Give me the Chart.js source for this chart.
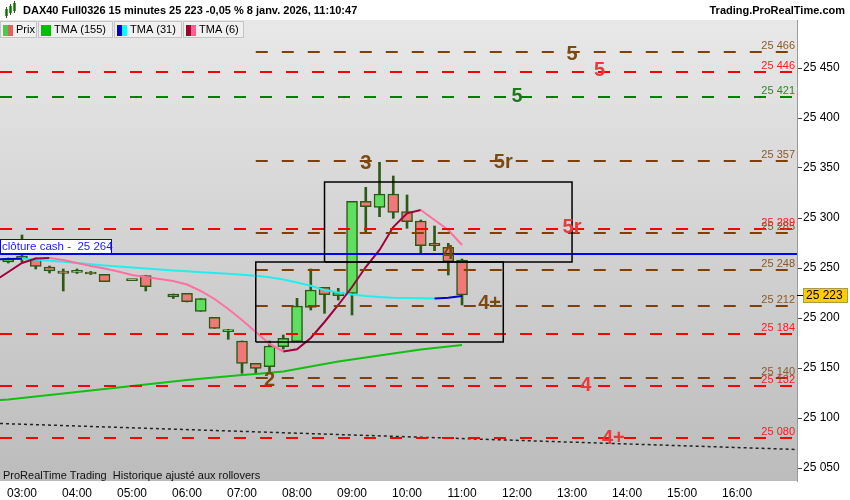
<!DOCTYPE html>
<html>
<head>
<meta charset="utf-8">
<script src="https://cdn.jsdelivr.net/npm/chart.js@4.4.1/dist/chart.umd.min.js"></script>
<style>
  html, body { margin: 0; padding: 0; background: #ffffff; }
  canvas { display: block; }
</style>
</head>
<body>
<canvas id="dax" width="850" height="500"></canvas>
<script>
'use strict';

/* ── data ─────────────────────────────────────────────── */
const candleTimes = [
  '02:45', '03:00', '03:15', '03:30', '03:45', '04:00', '04:15', '04:30', '04:45',
  '05:00', '05:15', '05:30', '05:45', '06:00', '06:15', '06:30', '06:45', '07:00',
  '07:15', '07:30', '07:45', '08:00', '08:15', '08:30', '08:45', '09:00', '09:15',
  '09:30', '09:45', '10:00', '10:15', '10:30', '10:45', '11:00',
];
const opens  = [25256, 25259, 25259, 25251, 25247, 25245.7, 25246, 25243.7, null,
                25237.3, 25242.3, null, 25224, 25224.7, 25206.7, 25200.7, 25186.3, 25177,
                25154.7, 25151.3, 25171.3, 25176.3, 25210.7, 25230.7, 25222.3, 25224.7, 25316.7,
                25310.7, 25324, 25306.3, 25297, 25274.7, 25270.7, 25258];
const highs  = [25260, 25283, 25260, 25252, 25249, 25249, 25246.5, 25243.7, null,
                25237.3, 25242.3, null, 25224, 25224.7, 25219.3, 25200.7, 25188.7, 25177,
                25154.7, 25177, 25183, 25219.7, 25249, 25230.7, 25229.7, 25316.7, 25330.7,
                25355.7, 25342, 25323, 25298, 25292, 25274.7, 25259];
const lows   = [25255, 25256, 25249, 25245, 25227, 25244.5, 25243.5, 25236.3, null,
                25237.3, 25227, null, 25219.5, 25216, 25206.7, 25189.7, 25178.7, 25144.7,
                25144, 25146, 25169, 25176.3, 25208, 25204.7, 25218, 25203, 25286.3,
                25301.3, 25299.7, 25289.7, 25264, 25267.3, 25243, 25213];
const closes = [25259.5, 25262, 25251.5, 25247, 25244.7, 25245.7, 25244, 25236.3, null,
                25237.3, 25231.3, null, 25221, 25216.3, 25219.3, 25189.7, 25186.3, 25154.7,
                25149.7, 25172, 25179.7, 25212, 25228, 25223.3, 25225.7, 25316.7, 25311.3,
                25324, 25305.7, 25296.3, 25272.3, 25272.3, 25256.3, 25223];

const maTimes = ['02:30'].concat(candleTimes);
const tma155 = [25117.5, 25118.5, 25120, 25121.5, 25123, 25124.5, 25126, 25127.5, 25129,
                25130.5, 25132, 25133.5, 25135, 25136.5, 25138, 25139.3, 25140.5, 25141.7,
                25142.9, 25144, 25145.2, 25146.5, 25149, 25151.5, 25154, 25156.5, 25158.5,
                25160.5, 25162.5, 25164.5, 25166.5, 25168.5, 25170, 25171.5, 25173];
const tma31  = [25258.5, 25259, 25259.3, 25258.3, 25257.3, 25256.2, 25255, 25253.8, 25252.6,
                25251.5, 25250.5, 25249.5, 25248.5, 25247.6, 25246.7, 25245.8, 25245, 25244.2,
                25243.3, 25242.2, 25240.8, 25238.5, 25235.5, 25232.3, 25228, 25225.5, 25223.5,
                25222, 25221, 25220.3, 25220, 25219.7, 25219.6, 25220.3, 25222];
const tma6   = [25237, 25246, 25255, 25259.5, 25260, 25258, 25255, 25252, 25249.5,
                25246.5, 25243, 25241, 25239, 25237, 25233.5, 25227, 25219, 25209,
                25198, 25186, 25174, 25166.5, 25168.7, 25180, 25196, 25213, 25231,
                25251, 25268, 25291, 25304.7, 25308, 25298, 25288, 25273];

// horizontal levels
const brownLevels = [25466, 25357, 25285, 25248, 25212, 25140];
const redLevels   = [25446, 25289, 25184, 25132, 25080];
const greenLevels = [25421];
const brownStart  = '07:15';
const clotureCash = 25264;

// rectangles: [from, to, low, high]
const boxes = [
  ['08:30', '13:00', 25256, 25336],
  ['07:15', '11:45', 25176, 25256],
];

// dotted trend line
const trendTimes  = ['02:36', '17:06'];
const trendValues = [25094.5, 25068.5];

// level tags on the chart: [text, time, value, colour key]
const tags = [
  ['5',  '13:00', 25464, 'brown'],
  ['5',  '13:30', 25448, 'red'],
  ['5',  '12:00', 25422, 'green'],
  ['3',  '09:15', 25355, 'brown'],
  ['5r', '11:45', 25356, 'brown'],
  ['5r', '13:00', 25291, 'red'],
  ['4',  '10:45', 25265, 'brown'],
  ['4+', '11:30', 25215, 'brown'],
  ['2',  '07:30', 25138, 'brown'],
  ['4',  '13:15', 25133, 'red'],
  ['4+', '13:45', 25080, 'red'],
];

const hourTicks  = [3, 4, 5, 6, 7, 8, 9, 10, 11, 12, 13, 14, 15, 16];
const priceTicks = [25050, 25100, 25150, 25200, 25250, 25300, 25350, 25400, 25450];
const X_MIN = 2.6, X_MAX = 17.09, Y_MIN = 25037, Y_MAX = 25498;

/* ── helpers ──────────────────────────────────────────── */
const FONT = '"Liberation Sans", Arial, sans-serif';
const toH = (s) => { const p = s.split(':'); return +p[0] + (+p[1]) / 60; };
const fmt = (v) => String(Math.round(v)).replace(/\B(?=(\d{3})+(?!\d))/g, ' ');
const pad2 = (n) => (n < 10 ? '0' : '') + n;

const COL = {
  brown: { line: '#7f4000', text: '#8a5a28', tag: '#7b4a12' },
  red:   { line: '#ff0000', text: '#ff1a1a', tag: '#e83a3a' },
  green: { line: '#008000', text: '#2a8a2a', tag: '#1a7a1a' },
};

/* ── datasets ─────────────────────────────────────────── */
const wickData = [], bodyData = [], bodyColors = [];
candleTimes.forEach((t, i) => {
  if (opens[i] === null) return;
  const x = toH(t);
  wickData.push({ x, y: [lows[i], highs[i]] });
  bodyData.push({ x, y: [opens[i], closes[i]] });
  bodyColors.push(closes[i] >= opens[i] ? '#5ee05e' : '#f07878');
});

const maLine = (values, extra) => Object.assign({
  type: 'line',
  data: maTimes.map((t, i) => ({ x: toH(t), y: values[i] })),
  borderWidth: 2,
  pointRadius: 0,
  tension: 0,
}, extra);

const levelLine = (v, start, color, dash, order) => ({
  type: 'line',
  data: [{ x: start, y: v }, { x: X_MAX, y: v }],
  borderColor: color,
  borderWidth: 2,
  borderDash: dash,
  pointRadius: 0,
  order,
});

const datasets = [
  { type: 'bar', data: wickData, backgroundColor: '#2b5a14', borderWidth: 0,
    barThickness: 2, grouped: false, order: 10 },
  { type: 'bar', data: bodyData, backgroundColor: bodyColors, borderColor: '#2b5a14',
    borderWidth: 1.5, borderSkipped: false, barThickness: 11, minBarLength: 2,
    grouped: false, order: 9 },
  maLine(tma155, { borderColor: '#12c012', order: 6 }),
  maLine(tma31, { borderColor: '#22eeee', order: 5,
    segment: { borderColor: (c) => (c.p1.parsed.y > c.p0.parsed.y ? '#0000cc' : '#22eeee') } }),
  maLine(tma6, { borderColor: '#ff70a0', order: 4,
    segment: { borderColor: (c) => (c.p1.parsed.y > c.p0.parsed.y ? '#a0003c' : '#ff70a0') } }),
  { type: 'line', data: trendTimes.map((t, i) => ({ x: toH(t), y: trendValues[i] })),
    borderColor: '#222222', borderWidth: 1.5, borderDash: [3, 3], pointRadius: 0, order: 3 },
];
brownLevels.forEach((v) => datasets.push(levelLine(v, toH(brownStart), COL.brown.line, [12, 14], 2)));
redLevels.forEach((v) => datasets.push(levelLine(v, X_MIN, COL.red.line, [12, 14], 2)));
greenLevels.forEach((v) => datasets.push(levelLine(v, X_MIN, COL.green.line, [12, 14], 2)));
datasets.push(levelLine(clotureCash, X_MIN, '#0000ff', [], 2));
boxes.forEach((b) => {
  const x0 = toH(b[0]), x1 = toH(b[1]);
  datasets.push({
    type: 'line',
    data: [{ x: x0, y: b[2] }, { x: x1, y: b[2] }, { x: x1, y: b[3] }, { x: x0, y: b[3] }, { x: x0, y: b[2] }],
    borderColor: '#000000', borderWidth: 1.5, pointRadius: 0, tension: 0, order: 1,
  });
});

/* ── plugins ──────────────────────────────────────────── */
const background = {
  id: 'background',
  beforeDraw(chart) {
    const { ctx, chartArea: a } = chart;
    ctx.save();
    ctx.fillStyle = '#ffffff';
    ctx.fillRect(0, 0, chart.width, chart.height);
    const g = ctx.createLinearGradient(0, a.top, 0, a.bottom);
    g.addColorStop(0, '#e8e8e8');
    g.addColorStop(1, '#bcbcbc');
    ctx.fillStyle = g;
    ctx.fillRect(a.left, a.top, a.right - a.left, a.bottom - a.top);
    ctx.restore();
  },
};

const overlay = {
  id: 'overlay',
  afterDatasetsDraw(chart) {
    const { ctx, chartArea: a } = chart;
    const sx = chart.scales.x, sy = chart.scales.y;
    ctx.save();

    // value labels at the right end of each level
    ctx.font = '11px ' + FONT;
    ctx.textAlign = 'right';
    ctx.textBaseline = 'alphabetic';
    const valueLabel = (v, color) => {
      ctx.fillStyle = color;
      ctx.fillText(fmt(v), a.right - 2, sy.getPixelForValue(v) - 3);
    };
    brownLevels.forEach((v) => valueLabel(v, COL.brown.text));
    redLevels.forEach((v) => valueLabel(v, COL.red.text));
    greenLevels.forEach((v) => valueLabel(v, COL.green.text));

    // tags
    ctx.font = 'bold 20px ' + FONT;
    ctx.textAlign = 'center';
    ctx.textBaseline = 'middle';
    tags.forEach(([txt, t, v, key]) => {
      ctx.fillStyle = COL[key].tag;
      ctx.fillText(txt, sx.getPixelForValue(toH(t)), sy.getPixelForValue(v));
    });

    // clôture cash label
    const cy = sy.getPixelForValue(clotureCash);
    ctx.fillStyle = '#ffffff';
    ctx.fillRect(a.left, cy - 14, 111, 13);
    ctx.strokeStyle = '#0000ff';
    ctx.lineWidth = 1;
    ctx.strokeRect(a.left + 0.5, cy - 14.5, 111, 14);
    ctx.fillStyle = '#1a1aff';
    ctx.font = '11.5px ' + FONT;
    ctx.textAlign = 'left';
    ctx.fillText('clôture cash -  ' + fmt(clotureCash), a.left + 2, cy - 7);

    // last price tag on the axis
    const last = closes[closes.length - 1];
    const py = Math.round(sy.getPixelForValue(last));
    ctx.fillStyle = '#000000';
    ctx.fillRect(a.right, py, 6, 1);
    ctx.fillStyle = '#ffcc00';
    ctx.fillRect(a.right + 6, py - 7, 45, 15);
    ctx.strokeStyle = '#b09a40';
    ctx.strokeRect(a.right + 6.5, py - 6.5, 44, 14);
    ctx.fillStyle = '#000000';
    ctx.font = '12px ' + FONT;
    ctx.fillText(fmt(last), a.right + 9, py + 1);

    ctx.restore();
  },
  afterDraw(chart) {
    const { ctx, chartArea: a } = chart;
    ctx.save();

    // header
    ctx.fillStyle = '#ffffff';
    ctx.fillRect(0, 0, chart.width, a.top);
    ctx.fillStyle = '#3aa83a';
    ctx.fillRect(5, 9, 3, 7);
    ctx.fillRect(9, 6, 3, 7);
    ctx.fillRect(13, 3, 3, 8);
    ctx.fillStyle = '#2b5a14';
    ctx.fillRect(6, 7, 1, 11);
    ctx.fillRect(10, 4, 1, 11);
    ctx.fillRect(14, 1, 1, 12);
    ctx.fillStyle = '#000000';
    ctx.font = 'bold 11px ' + FONT;
    ctx.textBaseline = 'middle';
    ctx.textAlign = 'left';
    const last = closes[closes.length - 1];
    ctx.fillText('DAX40 Full0326 15 minutes ' + fmt(last) + ' -0,05 % 8 janv. 2026, 11:10:47', 23, 11);
    ctx.textAlign = 'right';
    ctx.fillText('Trading.ProRealTime.com', 845, 11);

    // legend boxes
    const items = [
      ['Prix', '#50c850', '#e06060', 37],
      ['TMA (155)', '#00c000', '#00c000', 75],
      ['TMA (31)', '#0000cc', '#00ffff', 68],
      ['TMA (6)', '#a00030', '#ff6090', 61],
    ];
    let x = 0;
    ctx.font = '11px ' + FONT;
    ctx.textAlign = 'left';
    items.forEach(([label, c1, c2, w]) => {
      ctx.fillStyle = '#f0f0f0';
      ctx.fillRect(x, 21, w, 17);
      ctx.strokeStyle = '#c4c4c4';
      ctx.lineWidth = 1;
      ctx.strokeRect(x + 0.5, 21.5, w - 1, 16);
      ctx.fillStyle = c1;
      ctx.fillRect(x + 3, 25, 5, 11);
      ctx.fillStyle = c2;
      ctx.fillRect(x + 8, 25, 5, 11);
      ctx.fillStyle = '#000000';
      ctx.fillText(label, x + 16, 30);
      x += w + 1;
    });

    // footer note
    ctx.fillStyle = '#111111';
    ctx.font = '11px ' + FONT;
    ctx.fillText('ProRealTime Trading  Historique ajusté aux rollovers', 3, a.bottom - 5);
    ctx.restore();
  },
};

/* ── chart ────────────────────────────────────────────── */
new Chart(document.getElementById('dax'), {
  type: 'bar',
  data: { datasets },
  options: {
    responsive: false,
    animation: false,
    events: [],
    layout: { padding: { top: 20, left: 0, right: 0, bottom: 0 } },
    plugins: { legend: { display: false }, tooltip: { enabled: false } },
    scales: {
      x: {
        type: 'linear',
        min: X_MIN,
        max: X_MAX,
        offset: false,
        grid: { display: false, drawTicks: false },
        border: { display: false },
        afterBuildTicks: (s) => { s.ticks = hourTicks.map((v) => ({ value: v })); },
        afterFit: (s) => { s.height = 19; },
        ticks: {
          autoSkip: false,
          maxRotation: 0,
          padding: 5,
          color: '#000000',
          font: { size: 12, family: FONT },
          callback: (v) => pad2(v) + ':00',
        },
      },
      y: {
        type: 'linear',
        position: 'right',
        min: Y_MIN,
        max: Y_MAX,
        grid: { drawOnChartArea: false, color: '#444444', tickLength: 5 },
        border: { display: true, color: '#9a9a9a' },
        afterBuildTicks: (s) => { s.ticks = priceTicks.map((v) => ({ value: v })); },
        afterFit: (s) => { s.width = 53; },
        ticks: {
          padding: 1,
          color: '#000000',
          font: { size: 12, family: FONT },
          callback: (v) => fmt(v),
        },
      },
    },
  },
  plugins: [background, overlay],
});
</script>
</body>
</html>
